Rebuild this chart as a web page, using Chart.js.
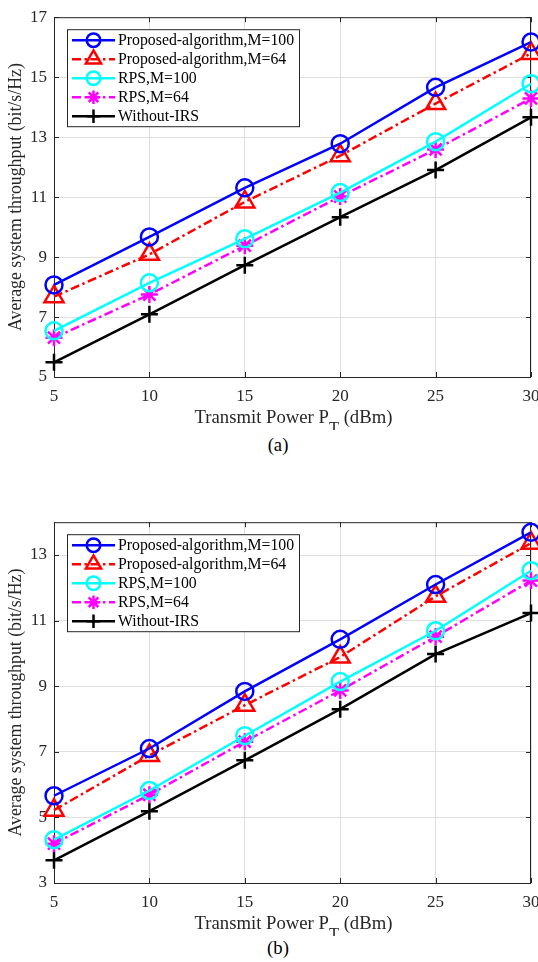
<!DOCTYPE html>
<html>
<head>
<meta charset="utf-8">
<script src="https://cdn.jsdelivr.net/npm/chart.js@4.4.0/dist/chart.umd.min.js"></script>
<style>
  html, body { margin: 0; padding: 0; background: #fff; }
  body { width: 538px; height: 962px; overflow: hidden; position: relative; }
  .panel { position: absolute; left: 0; }
  .caption { position: absolute; font-family: "Liberation Serif", serif; font-size: 18.7px; line-height: 22px; color: #000; transform: translateX(-50%); }
</style>
</head>
<body>
<canvas id="chartA" class="panel" width="560" height="430" style="top:0"></canvas>
<div class="caption" style="left:278px; top:434px">(a)</div>
<canvas id="chartB" class="panel" width="560" height="431" style="top:505px"></canvas>
<div class="caption" style="left:278px; top:937px">(b)</div>
<script>
const power = [5, 10, 15, 20, 25, 30];
const seriesNames = ['Proposed-algorithm,M=100', 'Proposed-algorithm,M=64', 'RPS,M=100', 'RPS,M=64', 'Without-IRS'];

// panel (a)
const proposedM100A = [8.07, 9.67, 11.31, 12.78, 14.66, 16.17];
const proposedM64A  = [7.68, 9.09, 10.84, 12.38, 14.12, 15.79];
const rpsM100A      = [6.54, 8.14, 9.61, 11.15, 12.85, 14.78];
const rpsM64A       = [6.31, 7.75, 9.38, 11.02, 12.59, 14.29];
const withoutIrsA   = [5.49, 7.09, 8.73, 10.33, 11.90, 13.66];
const yTicksA = [5, 7, 9, 11, 13, 15, 17];

// panel (b)
const proposedM100B = [5.66, 7.10, 8.84, 10.43, 12.10, 13.69];
const proposedM64B  = [5.22, 6.89, 8.42, 9.89, 11.74, 13.36];
const rpsM100B      = [4.32, 5.82, 7.49, 9.14, 10.69, 12.52];
const rpsM64B       = [4.20, 5.69, 7.31, 8.87, 10.51, 12.22];
const withoutIrsB   = [3.69, 5.19, 6.74, 8.30, 9.98, 11.23];
const yTicksB = [3, 5, 7, 9, 11, 13];

const xTicks = [5, 10, 15, 20, 25, 30];

const lineStyles = [
  { color: '#0000ff', dash: [], point: 'circle', radius: 8.5 },
  { color: '#ff0000', dash: [9, 3.5, 2.5, 3.5], point: 'triangle', radius: 11 },
  { color: '#00ffff', dash: [], point: 'circle', radius: 8.5 },
  { color: '#ff00ff', dash: [9, 3.5, 2.5, 3.5], point: 'star', radius: 8.5 },
  { color: '#000000', dash: [], point: 'cross', radius: 8.5 }
];

const AXIS = '#262626';
const SERIF = '"Liberation Serif", "Times New Roman", serif';

// box around the axes with inward ticks on all four sides
const framePlugin = {
  id: 'frame',
  beforeDatasetsDraw(chart) {
    const { ctx, chartArea: a, scales } = chart;
    ctx.save();
    ctx.strokeStyle = AXIS;
    ctx.lineWidth = 1;
    ctx.beginPath();
    scales.x.ticks.forEach(t => {
      const px = Math.round(scales.x.getPixelForValue(t.value)) + 0.5;
      ctx.moveTo(px, a.bottom); ctx.lineTo(px, a.bottom - 5);
      ctx.moveTo(px, a.top); ctx.lineTo(px, a.top + 5);
    });
    scales.y.ticks.forEach(t => {
      const py = Math.round(scales.y.getPixelForValue(t.value)) + 0.5;
      ctx.moveTo(a.left, py); ctx.lineTo(a.left + 5, py);
      ctx.moveTo(a.right, py); ctx.lineTo(a.right - 5, py);
    });
    ctx.stroke();
    ctx.strokeRect(a.left + 0.5, a.top + 0.5, a.right - a.left - 1, a.bottom - a.top);
    ctx.restore();
  }
};

// x axis title with the subscript on P
const xTitlePlugin = {
  id: 'xTitle',
  afterDraw(chart) {
    const { ctx, chartArea: a } = chart;
    const parts = [
      { text: 'Transmit Power P', font: '18.7px ' + SERIF, dy: 0 },
      { text: 'T', font: '16.5px ' + SERIF, dy: 10 },
      { text: ' (dBm)', font: '18.7px ' + SERIF, dy: 0 }
    ];
    ctx.save();
    ctx.fillStyle = AXIS;
    ctx.textBaseline = 'alphabetic';
    let total = 0;
    parts.forEach(p => { ctx.font = p.font; p.w = ctx.measureText(p.text).width; total += p.w; });
    let x = (a.left + a.right) / 2 - total / 2 + 1;
    const base = a.bottom + 45.5;
    parts.forEach(p => {
      ctx.font = p.font;
      ctx.fillText(p.text, x, base + p.dy);
      x += p.w;
    });
    ctx.restore();
  }
};

// legend box in the upper left corner of the axes
const boxLegendPlugin = {
  id: 'boxLegend',
  afterDraw(chart) {
    const { ctx, chartArea: a } = chart;
    const left = a.left + 13, top = a.top + 12, w = 232, h = 97;
    ctx.save();
    ctx.fillStyle = '#ffffff';
    ctx.fillRect(left, top, w, h);
    ctx.strokeStyle = AXIS;
    ctx.lineWidth = 1;
    ctx.strokeRect(left + 0.5, top + 0.5, w, h);
    chart.data.datasets.forEach((ds, i) => {
      const y = top + 11 + i * 19;
      ctx.strokeStyle = ds.borderColor;
      ctx.lineWidth = ds.borderWidth;
      ctx.setLineDash(ds.borderDash);
      ctx.beginPath();
      ctx.moveTo(left + 5, y);
      ctx.lineTo(left + 48, y);
      ctx.stroke();
      ctx.setLineDash([]);
      ctx.lineWidth = ds.pointBorderWidth;
      ctx.fillStyle = 'rgba(0,0,0,0)';
      Chart.helpers.drawPoint(ctx, {
        pointStyle: ds.pointStyle,
        radius: ds.pointRadius * 0.8,
        borderWidth: ds.pointBorderWidth,
        rotation: 0
      }, left + 26.5, y);
      ctx.fillStyle = '#000000';
      ctx.font = '15.8px ' + SERIF;
      ctx.textBaseline = 'middle';
      ctx.fillText(ds.label, left + 51, y + 1);
    });
    ctx.restore();
  }
};

function makeDatasets(seriesList) {
  return seriesList.map((vals, i) => ({
    label: seriesNames[i],
    data: vals.map((v, j) => ({ x: power[j], y: v })),
    borderColor: lineStyles[i].color,
    borderWidth: 2.5,
    borderDash: lineStyles[i].dash,
    pointStyle: lineStyles[i].point,
    pointRadius: lineStyles[i].radius,
    pointBorderWidth: 2.5,
    pointBorderColor: lineStyles[i].color,
    pointBackgroundColor: 'rgba(0,0,0,0)',
    fill: false,
    tension: 0,
    clip: false
  }));
}

function makeChart(id, seriesList, yMin, yMax, yTicks) {
  const tickFont = { family: SERIF, size: 17 };
  return new Chart(document.getElementById(id), {
    type: 'line',
    data: { datasets: makeDatasets(seriesList) },
    options: {
      responsive: false,
      animation: false,
      devicePixelRatio: 1,
      layout: { padding: { top: 10, right: 29, left: 0, bottom: 0 } },
      plugins: { legend: { display: false }, tooltip: { enabled: false } },
      scales: {
        x: {
          type: 'linear',
          min: 5,
          max: 30,
          afterBuildTicks: s => { s.ticks = xTicks.map(v => ({ value: v })); },
          afterFit: s => { s.height = 53; },
          grid: { color: '#dfdfdf', drawTicks: false },
          border: { display: false },
          ticks: { padding: 9, color: AXIS, font: tickFont, autoSkip: false, maxRotation: 0 }
        },
        y: {
          type: 'linear',
          min: yMin,
          max: yMax,
          afterBuildTicks: s => { s.ticks = yTicks.map(v => ({ value: v })); },
          afterFit: s => { s.width = 54; },
          grid: { color: '#dfdfdf', drawTicks: false },
          border: { display: false },
          ticks: { padding: 7, color: AXIS, font: tickFont },
          title: {
            display: true,
            text: 'Average system throughput (bit/s/Hz)',
            color: AXIS,
            font: { family: SERIF, size: 17.8 },
            padding: { top: 6, bottom: 0 }
          }
        }
      }
    },
    plugins: [framePlugin, xTitlePlugin, boxLegendPlugin]
  });
}

makeChart('chartA', [proposedM100A, proposedM64A, rpsM100A, rpsM64A, withoutIrsA], 5, 17, yTicksA);
makeChart('chartB', [proposedM100B, proposedM64B, rpsM100B, rpsM64B, withoutIrsB], 3, 14, yTicksB);
</script>
</body>
</html>
